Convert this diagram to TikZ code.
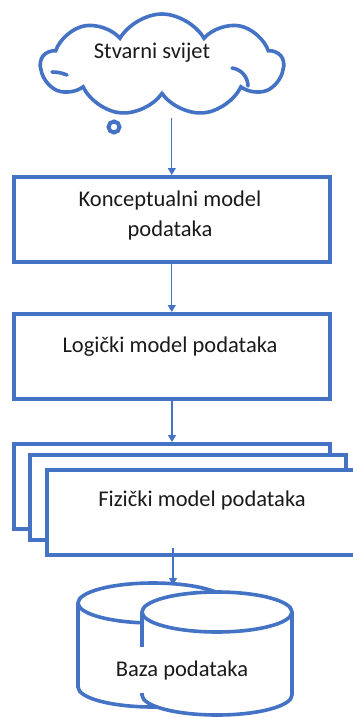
\documentclass[tikz,border=0pt]{standalone}
\usepackage{fontspec}
\setmainfont{Carlito}
\usetikzlibrary{shapes.symbols,arrows.meta}
\definecolor{ofblue}{HTML}{4472C4}
\definecolor{txt}{HTML}{1A1A1A}
\tikzset{
  box/.style={draw=ofblue,line width=3.6pt,fill=white,minimum width=316pt,minimum height=85pt,inner sep=0pt,anchor=north west},
  lbl/.style={text=txt,font=\fontsize{22.5}{30}\selectfont,inner sep=0pt,align=center},
  conn/.style={draw=ofblue,line width=1.2pt,-{Triangle[width=8pt,length=7pt]}},
  cyl/.style={draw=ofblue,line width=3.6pt,fill=white}
}
\begin{document}
\begin{tikzpicture}[x=1pt,y=1pt]
\clip (0,0) rectangle (353,-717);
\useasboundingbox (0,0) rectangle (353,-717);
% cloud
\node[cloud,cloud puffs=9,cloud puff arc=120,aspect=2.4,draw=ofblue,line width=3.6pt,fill=white,
  minimum width=242pt,minimum height=102pt,inner sep=0pt] (cloud) at (162,-65) {};
\draw[ofblue,line width=3.6pt,line cap=round] (52,-72) to[bend left=10] (67,-75);
\draw[ofblue,line width=3.6pt,line cap=round] (232,-68) to[bend left=40] (248,-86);
\node[lbl] (t0) at (152,-53) {Stvarni svijet};
\node[circle,draw=ofblue,line width=4pt,minimum size=11pt,inner sep=0pt] (bub) at (114,-127) {};
% box 1
\node[box] (b1) at (12,-175) {};
\node[lbl] (t1) at (170,-215) {Konceptualni model\\podataka};
% box 2
\node[box] (b2) at (12,-312) {};
\node[lbl] (t2) at (170,-347) {Logički model podataka};
% stack
\node[box] (b3a) at (12,-442) {};
\node[box] (b3b) at (28,-453) {};
\node[box] (b3c) at (45,-468) {};
\node[lbl] (t3) at (202,-500) {Fizički model podataka};
% cylinders
\path[cyl] (78,-603) -- (78,-687) arc (180:360:75 and 20) -- (228,-603) arc (0:180:75 and 20) -- cycle;
\draw[ofblue,line width=3.6pt] (78,-603) arc (180:360:75 and 20);
\path[cyl] (142,-612) -- (142,-695) arc (180:360:75 and 20) -- (292,-612) arc (0:180:75 and 20) -- cycle;
\draw[ofblue,line width=3.6pt] (142,-612) arc (180:360:75 and 20);
\node[lbl,fill=white,minimum height=46pt,inner xsep=3pt] (t4) at (182,-670) {Baza podataka};
\coordinate (dbtop) at (173,-585);
% connectors
\draw[conn] (b1.north |- 0,-118) -- (b1.north);
\draw[conn] (b1.south) -- (b2.north);
\draw[conn] (172,-398) -- (172,-442);
\draw[conn] (173,-548) -- (dbtop);
\end{tikzpicture}
\end{document}
